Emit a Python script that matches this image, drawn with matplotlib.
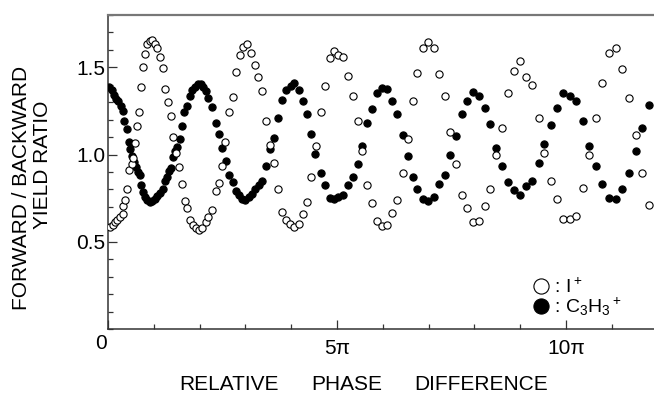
import numpy as np
import matplotlib
matplotlib.use("Agg")
import matplotlib.pyplot as plt

plt.rcParams['font.family'] = ['Liberation Sans', 'DejaVu Sans']
plt.rcParams['mathtext.fontset'] = 'custom'
plt.rcParams['mathtext.rm'] = 'Liberation Sans'
plt.rcParams['mathtext.it'] = 'Liberation Sans'

# relative phase in units of pi, forward/backward yield ratio
i_phase = [0.04, 0.10, 0.15, 0.20, 0.26, 0.32, 0.33, 0.37, 0.41, 0.46,
           0.52, 0.54, 0.58, 0.64, 0.68, 0.73, 0.77, 0.81, 0.86, 0.92,
           0.97, 1.02, 1.07, 1.13, 1.19, 1.25, 1.31, 1.37, 1.42, 1.48,
           1.54, 1.61, 1.68, 1.73, 1.79, 1.86, 1.93, 1.99, 2.06, 2.13,
           2.19, 2.26, 2.35, 2.42, 2.49, 2.56, 2.64, 2.72, 2.80, 2.88,
           2.95, 3.04, 3.13, 3.20, 3.27, 3.36, 3.45, 3.54, 3.62, 3.71,
           3.80, 3.88, 3.97, 4.06, 4.17, 4.26, 4.35, 4.44, 4.55, 4.64,
           4.74, 4.84, 4.93, 5.03, 5.14, 5.24, 5.34, 5.45, 5.55, 5.66,
           5.77, 5.88, 5.98, 6.09, 6.20, 6.31, 6.43, 6.54, 6.65, 6.75,
           6.88, 6.99, 7.11, 7.23, 7.36, 7.47, 7.60, 7.72, 7.84, 7.97,
           8.09, 8.22, 8.34, 8.47, 8.60, 8.73, 8.86, 8.99, 9.12, 9.25,
           9.40, 9.52, 9.67, 9.81, 9.94, 10.08, 10.22, 10.36, 10.50, 10.65,
           10.79, 10.94, 11.08, 11.23, 11.37, 11.52, 11.66, 11.81]
i_ratio = [0.585, 0.594, 0.613, 0.623, 0.642, 0.661, 0.705, 0.737, 0.804, 0.909,
           0.947, 0.979, 1.065, 1.166, 1.242, 1.389, 1.503, 1.579, 1.636, 1.651,
           1.655, 1.636, 1.613, 1.560, 1.499, 1.375, 1.299, 1.223, 1.099, 1.007,
           0.931, 0.833, 0.733, 0.691, 0.623, 0.594, 0.581, 0.570, 0.581, 0.613,
           0.642, 0.684, 0.790, 0.836, 0.937, 1.070, 1.242, 1.331, 1.474, 1.571,
           1.617, 1.636, 1.585, 1.512, 1.442, 1.362, 1.190, 1.057, 0.954, 0.804,
           0.670, 0.623, 0.604, 0.585, 0.600, 0.661, 0.727, 0.870, 1.051, 1.242,
           1.394, 1.556, 1.594, 1.570, 1.560, 1.453, 1.335, 1.194, 1.023, 0.825,
           0.722, 0.619, 0.590, 0.596, 0.665, 0.737, 0.897, 1.090, 1.307, 1.465,
           1.611, 1.644, 1.613, 1.460, 1.337, 1.127, 0.943, 0.770, 0.695, 0.613,
           0.619, 0.703, 0.804, 0.998, 1.154, 1.350, 1.478, 1.537, 1.447, 1.398,
           1.207, 1.011, 0.846, 0.745, 0.629, 0.632, 0.646, 0.810, 0.998, 1.210,
           1.408, 1.585, 1.610, 1.493, 1.324, 1.113, 0.897, 0.713]

c_phase = [0.03, 0.08, 0.13, 0.17, 0.22, 0.28, 0.32, 0.36, 0.41, 0.45,
           0.49, 0.52, 0.57, 0.61, 0.65, 0.70, 0.73, 0.77, 0.81, 0.86,
           0.92, 0.97, 1.02, 1.07, 1.13, 1.19, 1.24, 1.29, 1.34, 1.38,
           1.42, 1.47, 1.51, 1.57, 1.61, 1.67, 1.73, 1.79, 1.84, 1.90,
           1.96, 2.02, 2.08, 2.13, 2.19, 2.27, 2.35, 2.42, 2.49, 2.57,
           2.64, 2.72, 2.79, 2.86, 2.93, 3.00, 3.07, 3.14, 3.22, 3.29,
           3.36, 3.45, 3.54, 3.62, 3.71, 3.80, 3.88, 3.99, 4.07, 4.17,
           4.26, 4.35, 4.44, 4.53, 4.64, 4.74, 4.84, 4.93, 5.03, 5.14,
           5.24, 5.34, 5.45, 5.55, 5.66, 5.77, 5.88, 5.98, 6.09, 6.20,
           6.31, 6.43, 6.54, 6.65, 6.75, 6.88, 6.99, 7.11, 7.23, 7.36,
           7.47, 7.60, 7.72, 7.84, 7.97, 8.09, 8.22, 8.34, 8.47, 8.60,
           8.73, 8.86, 8.99, 9.12, 9.25, 9.40, 9.52, 9.67, 9.81, 9.94,
           10.08, 10.22, 10.36, 10.50, 10.65, 10.79, 10.94, 11.08, 11.23, 11.37,
           11.52, 11.66, 11.82]
c_ratio = [1.385, 1.370, 1.343, 1.318, 1.305, 1.280, 1.251, 1.194, 1.147, 1.070,
           1.032, 0.994, 0.956, 0.928, 0.899, 0.880, 0.823, 0.785, 0.756, 0.737,
           0.727, 0.733, 0.747, 0.760, 0.779, 0.804, 0.847, 0.874, 0.905, 0.922,
           0.985, 1.023, 1.042, 1.090, 1.166, 1.242, 1.280, 1.337, 1.370, 1.385,
           1.404, 1.404, 1.385, 1.366, 1.324, 1.274, 1.179, 1.118, 1.038, 0.962,
           0.880, 0.842, 0.790, 0.766, 0.747, 0.737, 0.756, 0.775, 0.804, 0.823,
           0.851, 0.933, 1.032, 1.095, 1.210, 1.312, 1.371, 1.394, 1.408, 1.370,
           1.305, 1.233, 1.118, 1.004, 0.897, 0.823, 0.750, 0.743, 0.756, 0.770,
           0.823, 0.870, 0.943, 1.051, 1.181, 1.263, 1.352, 1.379, 1.375, 1.305,
           1.233, 1.114, 0.994, 0.870, 0.804, 0.743, 0.733, 0.756, 0.829, 0.880,
           0.998, 1.109, 1.233, 1.305, 1.360, 1.337, 1.267, 1.175, 1.036, 0.937,
           0.842, 0.798, 0.771, 0.819, 0.846, 0.953, 1.061, 1.171, 1.267, 1.350,
           1.337, 1.309, 1.194, 1.051, 0.933, 0.833, 0.753, 0.743, 0.804, 0.895,
           1.019, 1.153, 1.282]

xtick_pos = [0, 5, 10]
xtick_labels = ["", "5\u03c0", "10\u03c0"]
ytick_pos = [0.5, 1.0, 1.5]
ytick_labels = ["0.5", "1.0", "1.5"]

fig = plt.figure(figsize=(6.54, 3.94), dpi=100)
ax = fig.add_axes([108 / 654, 65 / 394, 1 - 108 / 654, 314 / 394])

ax.plot(c_phase, c_ratio, 'o', ms=5.2, mfc='black', mec='black', mew=0.8,
        zorder=3, label=" : C$_3$H$_3$$^+$")
ax.plot(i_phase, i_ratio, 'o', ms=5.2, mfc='white', mec='black', mew=0.8,
        zorder=4, label=" : I$^+$")

ax.set_xlim(0, 11.92)
ax.set_ylim(0, 1.8)

ax.set_xticks(xtick_pos)
ax.set_xticklabels(xtick_labels)
ax.set_xticks(np.arange(0, 12, 1), minor=True)
ax.set_yticks(ytick_pos)
ax.set_yticklabels(ytick_labels)
ax.set_yticks(np.arange(0, 1.81, 0.1), minor=True)

ax.tick_params(which='both', direction='in', top=False, right=False,
               labelsize=15, width=0.9, color='#333333')
ax.tick_params(which='major', length=6.5)
ax.tick_params(which='minor', length=3.8)
ax.tick_params(axis='x', pad=7)
ax.tick_params(axis='y', pad=2)

ax.spines['right'].set_visible(False)
ax.spines['top'].set_color('#777777')
ax.spines['top'].set_linewidth(1.6)
for s in ['left', 'bottom']:
    ax.spines[s].set_color('#333333')
    ax.spines[s].set_linewidth(1.1)

# origin label
ax.annotate("0", xy=(0, 0), xytext=(-0.5, -3.5), textcoords='offset points',
            ha='right', va='top', fontsize=15)

# legend
h, l = ax.get_legend_handles_labels()
ax.legend(h[::-1], l[::-1], loc='center left', bbox_to_anchor=(0.782, 0.1),
          frameon=False, fontsize=14, markerscale=2.1, handlelength=0.6,
          handletextpad=0.1, labelspacing=-0.05, borderpad=0.0, borderaxespad=0.0)

# axis labels
fig.text(22 / 654, 1 - 188 / 394, "FORWARD / BACKWARD", rotation=90,
         ha='center', va='center', fontsize=15)
fig.text(43 / 654, 1 - 165 / 394, "YIELD RATIO", rotation=90,
         ha='center', va='center', fontsize=15)
fig.text(229 / 654, 1 - 384 / 394, "RELATIVE", ha='center', va='center', fontsize=15)
fig.text(347 / 654, 1 - 384 / 394, "PHASE", ha='center', va='center', fontsize=15)
fig.text(481 / 654, 1 - 384 / 394, "DIFFERENCE", ha='center', va='center', fontsize=15)

fig.savefig("out.png", dpi=100)
